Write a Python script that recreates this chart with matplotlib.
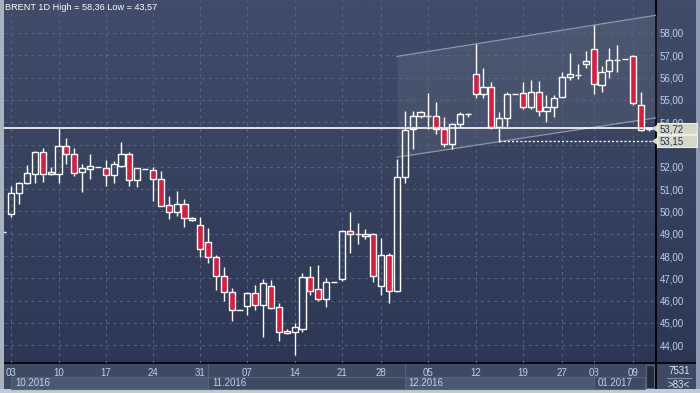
import numpy as np
import matplotlib
matplotlib.use("Agg")
import matplotlib.pyplot as plt
from matplotlib.patches import Rectangle, Polygon
from matplotlib.colors import LinearSegmentedColormap
from matplotlib.transforms import blended_transform_factory

# daily candles, first one is the clipped bar at the left edge
first_idx = -1
opens = [49.08, 49.87, 50.81, 51.26, 51.66, 52.65, 51.66, 51.66, 52.92, 52.56, 51.75,
         51.92, 51.98, 51.93, 51.65, 52.05, 52.56, 51.39, 51.92, 51.84, 51.44,
         50.27, 49.96, 50.32, 49.69, 49.39, 48.61, 47.94, 47.09, 46.37, 45.59,
         45.74, 46.33, 45.79, 46.64, 45.70, 44.62, 44.61, 44.74, 47.04, 46.51,
         46.06, 46.85, 46.95, 49.10, 48.97, 48.97, 48.97, 46.67, 48.03, 46.44,
         51.53, 53.70, 54.26, 54.26, 54.26, 53.68, 53.01, 53.90, 54.35, 56.15,
         55.25, 55.56, 53.80, 54.17, 55.26, 55.29, 54.70, 55.34, 54.49, 54.70,
         55.15, 56.01, 56.13, 56.59, 57.27, 55.65, 56.28, 56.77, 56.82, 56.95,
         54.79, 53.70]
highs = [49.08, 51.14, 51.33, 52.08, 52.71, 52.83, 52.00, 53.75, 53.28, 52.83, 52.13,
         52.57, 51.98, 52.31, 52.28, 53.11, 52.68, 51.95, 51.92, 52.00, 51.81,
         50.69, 50.92, 50.56, 49.75, 49.76, 49.24, 48.04, 47.52, 46.58, 45.59,
         46.39, 46.70, 46.97, 46.92, 45.88, 44.71, 45.01, 47.24, 47.55, 47.60,
         47.03, 46.85, 49.17, 49.96, 49.46, 49.19, 49.05, 48.79, 48.12, 52.34,
         54.50, 54.50, 54.50, 55.30, 54.90, 54.22, 53.98, 54.46, 54.43, 57.51,
         56.41, 55.80, 54.44, 55.35, 55.26, 55.80, 55.89, 55.85, 55.22, 55.22,
         56.24, 57.10, 56.61, 57.18, 58.36, 56.52, 57.34, 57.48, 56.82, 57.00,
         55.35, 53.80]
lows = [49.08, 49.76, 50.32, 51.21, 51.29, 51.33, 51.63, 51.29, 52.11, 51.60, 50.89,
        51.45, 51.98, 51.15, 51.26, 52.00, 51.15, 51.11, 51.92, 50.48, 50.23,
        49.64, 49.81, 49.32, 49.57, 47.97, 47.70, 46.48, 45.99, 45.10, 45.59,
        45.35, 45.58, 44.38, 45.62, 44.19, 44.50, 43.57, 44.61, 46.25, 46.00,
        45.73, 46.85, 46.90, 48.15, 48.55, 48.75, 46.85, 46.27, 45.91, 46.40,
        51.29, 52.81, 54.20, 53.71, 53.48, 52.90, 52.80, 53.80, 54.25, 55.10,
        55.10, 53.69, 53.13, 53.72, 55.26, 54.60, 54.60, 54.29, 54.02, 54.25,
        55.10, 55.88, 55.92, 56.43, 55.28, 55.34, 56.00, 56.25, 56.82, 54.76,
        53.60, 53.59]
closes = [49.08, 50.81, 51.26, 51.71, 52.65, 51.66, 51.75, 52.92, 52.56, 51.71, 51.93,
          52.02, 51.98, 51.62, 52.11, 52.56, 51.39, 51.93, 51.92, 51.44, 50.23,
          49.96, 50.32, 49.69, 49.60, 48.30, 47.94, 47.09, 46.37, 45.56, 45.59,
          46.33, 45.79, 46.77, 45.68, 44.61, 44.53, 44.80, 47.04, 46.45, 46.06,
          46.82, 46.85, 49.12, 48.97, 48.99, 48.88, 47.09, 48.03, 46.41, 51.53,
          53.63, 54.26, 54.44, 54.26, 53.68, 53.01, 53.90, 54.35, 54.35, 55.25,
          55.56, 53.80, 54.17, 55.25, 55.26, 54.67, 55.34, 54.49, 54.70, 55.07,
          56.01, 56.14, 56.13, 56.73, 55.70, 56.24, 56.77, 56.77, 56.82, 54.85,
          53.65, 53.72]

day_ticks = [0, 6, 12, 18, 24, 30, 36, 42, 47, 53, 59, 65, 70, 74, 79]
day_labels = ["03", "10", "17", "24", "31", "07", "14", "21", "28", "05", "12",
              "19", "27", "03", "09"]
month_starts = [0, 25, 50, 74]
month_labels = ["10.2016", "11.2016", "12.2016", "01.2017"]
price_ticks = list(range(44, 59))

last_price = 53.72
ref_price = 53.15
ref_idx = 62
chan_x = [49, 82]
chan_upper = [56.95, 58.80]
chan_lower = [52.43, 54.20]

W, H = 700, 393
RED = "#dc1c3e"
TXT = "#bcd3ef"
plt.rcParams["font.family"] = "Liberation Sans"

fig = plt.figure(figsize=(7, 3.93), dpi=100)

# pixel-space background layer
bg = fig.add_axes([0, 0, 1, 1])
bg.axis("off")
grad = np.linspace(0, 1, 256).reshape(-1, 1)
cmap = LinearSegmentedColormap.from_list("bgc", ["#404c68", "#2b3754"])
bg.imshow(grad, extent=[4, 696, 363, 0], aspect="auto", cmap=cmap, zorder=0)
bg.add_patch(Rectangle((4, 363), 692, 26, fc="#3e4a64", ec="none", zorder=1))
bg.add_patch(Rectangle((0, 0), 4, H, fc="#a9b2bf", ec="none", zorder=5))
bg.add_patch(Rectangle((696, 0), 4, H, fc="#8e9ab0", ec="none", zorder=5))
bg.add_patch(Rectangle((0, 389), W, 4, fc="#c4c9d2", ec="none", zorder=5))
bg.plot([656, 656], [0, 389], color="black", lw=1.3, zorder=4)
bg.plot([4, 696], [363, 363], color="black", lw=1.3, zorder=4)
bg.add_patch(Rectangle((646, 365), 8, 23, fc="#232b3c", ec="#5c667a", lw=0.8, zorder=3))
bg.text(679, 371.5, "7531", ha="center", va="center", fontsize=7, color="#dde6f2", zorder=4)
bg.plot([667, 691], [378, 378], color="#8090a8", lw=0.8, zorder=4)
bg.text(679, 384.5, ">83<", ha="center", va="center", fontsize=7, color="#dde6f2", zorder=4)
bg.text(5, 3.5, "BRENT 1D High = 58,36 Low = 43,57", ha="left", va="top",
        fontsize=6.6, color="white", zorder=4)
bg.set_xlim(0, W)
bg.set_ylim(H, 0)

# main price axes
ax = fig.add_axes([4 / W, (H - 363) / H, 652 / W, 363 / H])
ax.patch.set_alpha(0)
x0, dx = 11.3, 7.87
ax.set_xlim((4 - x0) / dx, (656 - x0) / dx)
ax.set_ylim(58 - 330 / 22.3, 58 + 33 / 22.3)
for s in ax.spines.values():
    s.set_visible(False)

# 53,00 sits under the price flags in the reference
ax.set_xticks(day_ticks)
ax.set_xticklabels(day_labels)
ax.set_yticks(price_ticks)
ax.set_yticklabels(["" if p == 53 else f"{p:.2f}".replace(".", ",") for p in price_ticks])
ax.yaxis.tick_right()
ax.tick_params(axis="x", length=0, pad=3.6, labelsize=7, labelcolor=TXT)
ax.tick_params(axis="y", length=0, pad=2.5, labelsize=7, labelcolor=TXT)
ax.grid(True, color="#56668a", lw=0.7, ls=(0, (3, 4)), zorder=1)

# trend channel
ax.fill_between(chan_x, chan_lower, chan_upper, color="white", alpha=0.07, lw=0, zorder=1)
ax.plot(chan_x, chan_upper, color="#8d98ad", lw=0.9, zorder=2)
ax.plot(chan_x, chan_lower, color="#8d98ad", lw=0.9, zorder=2)

# candles
bw = 0.78
for k, (o, h, l, c) in enumerate(zip(opens, highs, lows, closes)):
    x = first_idx + k
    lo, hi = min(o, c), max(o, c)
    if h > hi:
        ax.vlines(x, hi, h, color="white", lw=1, zorder=3)
    if l < lo:
        ax.vlines(x, l, lo, color="white", lw=1, zorder=3)
    ax.add_patch(Rectangle((x - bw / 2, lo), bw, hi - lo,
                           fc=RED if c < o else "none", ec="white", lw=1, zorder=4))

ax.axhline(last_price, color="white", lw=1.2, zorder=5)
ax.hlines(ref_price, ref_idx, ax.get_xlim()[1], color="white", lw=1,
          ls=(0, (1.5, 1.5)), zorder=5)

# price flags on the right scale
ty = blended_transform_factory(bg.transData, ax.transData)
for p in [last_price, ref_price]:
    ax.add_patch(Rectangle((657, p - 0.26), 40, 0.52, transform=ty, fc="#d6d8c6",
                           ec="#eeeee6", lw=0.8, clip_on=False, zorder=6))
    ax.add_patch(Polygon([(657, p - 0.16), (652, p), (657, p + 0.16)], closed=True,
                         transform=ty, fc="#d6d8c6", ec="none", clip_on=False, zorder=6))
    ax.text(660, p - 0.03, f"{p:.2f}".replace(".", ","), transform=ty, ha="left",
            va="center", fontsize=7, color="#1f2f4f", clip_on=False, zorder=7)

# month strip
tx = blended_transform_factory(ax.transData, bg.transData)
month_ends = month_starts[1:] + [(645 - x0) / dx]
for k, (s, e, lab) in enumerate(zip(month_starts, month_ends, month_labels)):
    ax.add_patch(Rectangle((s, 377), e - s, 12, transform=tx,
                           fc="#4b5874" if k % 2 == 0 else "#3e4a64",
                           ec="#56637c", lw=0.8, clip_on=False, zorder=2))
    if k > 0:
        ax.plot([s, s], [364, 377], transform=tx, color="#56637c", lw=0.8,
                clip_on=False, zorder=2)
    ax.text(s + 0.5, 383, lab, transform=tx, ha="left", va="center",
            fontsize=7, color=TXT, clip_on=False, zorder=3)

fig.savefig("out.png", dpi=100)
